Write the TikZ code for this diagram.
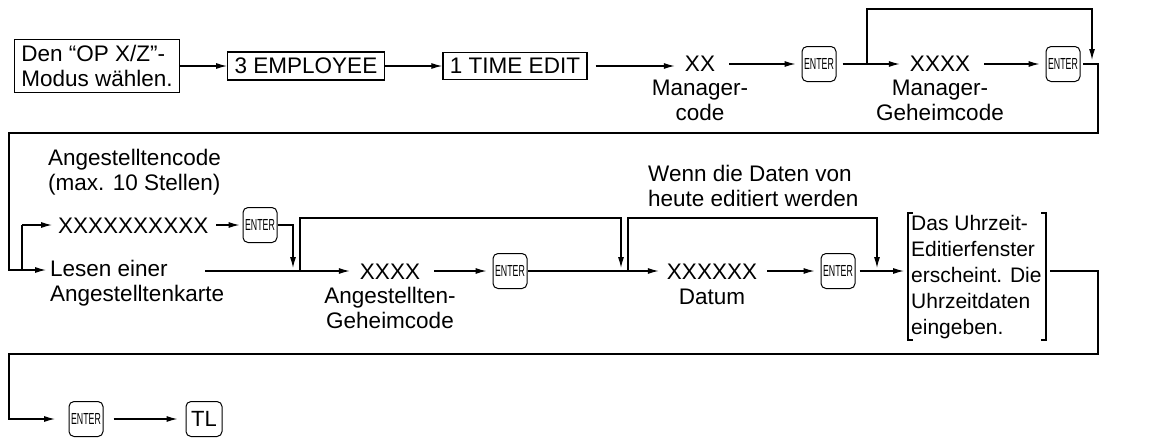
\documentclass[tikz,border=0pt]{standalone}
\usepackage{fontspec}
\setmainfont{Liberation Sans}
\usetikzlibrary{arrows.meta}
\begin{document}
\begin{tikzpicture}[x=1pt,y=-1pt,
  every node/.style={font=\fontsize{22.5}{25}\selectfont, inner sep=0pt},
  box/.style={draw, line width=1.3pt, inner xsep=7pt, inner ysep=6pt, align=left},
  key/.style={draw, rounded corners=5pt, line width=1pt, minimum width=34pt, minimum height=35pt, font=\fontsize{16}{16}\selectfont},
  lab/.style={align=center},
  ln/.style={line width=1.2pt},
  ar/.style={line width=1.2pt, -{Latex[length=11pt,width=6pt]}}]
\useasboundingbox (0,0) rectangle (1173,440);
% row 1
\node[box] (b1) at (97,66) {Den “OP X/Z”-\\Modus wählen.};
\node[box] (b2) at (306,66) {3 EMPLOYEE};
\node[box] (b3) at (515,66) {1 TIME EDIT};
\node (xx) at (700,64) {XX};
\node[lab,anchor=north] (xxl) at (700,80) {Manager-\\code};
\node[key] (k1) at (819,64) {\scalebox{0.55}[1]{ENTER}};
\node (x4) at (940,64) {XXXX};
\node[lab,anchor=north] (x4l) at (940,80) {Manager-\\Geheimcode};
\node[key] (k2) at (1063,64) {\scalebox{0.55}[1]{ENTER}};
\draw[ar] (b1.east) -- (b2.west);
\draw[ar] (b2.east) -- (b3.west);
\draw[ar] ([xshift=8pt]b3.east) -- ([xshift=-10pt]xx.west |- b3.east);
\draw[ar] ([xshift=14pt]xx.east |- k1.west) -- ([xshift=-6pt]k1.west);
\draw[ar] ([xshift=6pt]k1.east) -- ([xshift=-10pt]x4.west |- k1.east);
\coordinate (s1) at (867,64);
\coordinate (s2) at (1092,60);
\draw[ar] (s1) -- (867,9) -- (1092,9) -- (s2);
\draw[ar] ([xshift=14pt]x4.east |- k2.west) -- ([xshift=-6pt]k2.west);
\coordinate (c1) at (1083,64);
\coordinate (c2) at (22,225);
\coordinate (c3) at (22,270);
\draw[ln] (c1) -- (1098,64) -- (1098,133) -- (9,133) -- (9,270) -- (c3);
% row 2
\node[anchor=west,align=left] (ac) at (48,172) {Angestelltencode\\(max. 10 Stellen)};
\node[anchor=west] (x10) at (58,226) {XXXXXXXXXX};
\node[key] (k3) at (260,225) {\scalebox{0.55}[1]{ENTER}};
\node[anchor=west,align=left] (le) at (50,283) {Lesen einer\\Angestelltenkarte};
\draw[ln] (c3) -- (c2);
\draw[ar] (c2) -- ([xshift=-6pt]x10.west |- c2);
\draw[ar] (c3) -- (46,270);
\draw[ar] ([xshift=8pt]x10.east |- k3.west) -- ([xshift=-3pt]k3.west);
\coordinate (d1) at (293,268);
\draw[ar] (k3.east) -- (293,225) -- (d1);
\node (x4b) at (390,272) {XXXX};
\node[lab,anchor=north] (x4bl) at (390,287) {Angestellten-\\Geheimcode};
\node[key] (k4) at (510,271) {\scalebox{0.55}[1]{ENTER}};
\draw[ar] (205,271) -- ([xshift=-10pt]x4b.west |- k4.west);
\coordinate (d2) at (621,268);
\draw[ar] (300,271) -- (300,218) -- (621,218) -- (d2);
\draw[ar] ([xshift=14pt]x4b.east |- k4.west) -- ([xshift=-6pt]k4.west);
\node (x6) at (712,272) {XXXXXX};
\node[anchor=north] (dat) at (712,289) {Datum};
\node[key] (k5) at (838,271) {\scalebox{0.55}[1]{ENTER}};
\node[lab,align=left,anchor=west] (wenn) at (648,186) {Wenn die Daten von\\heute editiert werden};
\draw[ar] (k4.east) -- ([xshift=-8pt]x6.west |- k4.east);
\coordinate (d3) at (877,268);
\draw[ar] (628,271) -- (628,218) -- (877,218) -- (d3);
\draw[ar] ([xshift=10pt]x6.east |- k5.west) -- ([xshift=-6pt]k5.west);
\node[align=left,anchor=west,font=\fontsize{21}{26.2}\selectfont] (ut) at (911,277) {Das Uhrzeit-\\Editierfenster\\erscheint. Die\\Uhrzeitdaten\\eingeben.};
\draw[line width=1.2pt] (913,213) -- (908,213) -- (908,340) -- (913,340);
\draw[line width=1.2pt] (1041,213) -- (1046,213) -- (1046,340) -- (1041,340);
\draw[ar] ([xshift=4pt]k5.east) -- (904,271);
\coordinate (e1) at (1050,271);
\coordinate (e2) at (55,419);
\draw[ar] (e1) -- (1098,271) -- (1098,354) -- (9,354) -- (9,419) -- (e2);
% row 3
\node[key] (k6) at (86,419) {\scalebox{0.55}[1]{ENTER}};
\node[key,font=\fontsize{22}{22}\selectfont,minimum width=36pt] (tl) at (204,419) {TL};
\draw[ar] ([xshift=10pt]k6.east) -- ([xshift=-8pt]tl.west);
\end{tikzpicture}
\end{document}
